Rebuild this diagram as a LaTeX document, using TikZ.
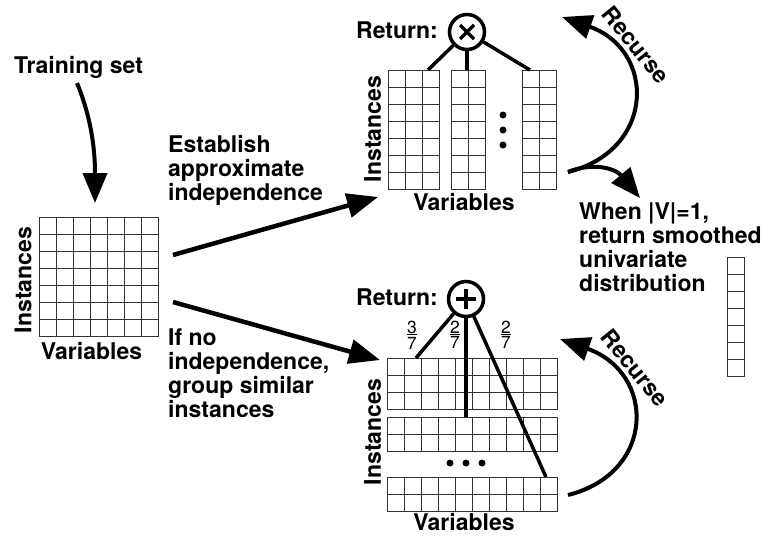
\documentclass[tikz,border=0pt]{standalone}
\usepackage{fontspec}
\setmainfont{TeX Gyre Heros}
\usetikzlibrary{arrows.meta}
\newcommand\cellgrid[5]{% name, x, y, cols, rows
  \node[inner sep=0pt, outer sep=0pt, anchor=north west,
        minimum width=#4*17pt, minimum height=#5*17pt] (#1) at (#2,#3) {};
  \foreach \i in {0,...,#4}
    \draw[gridline] ({#2+\i*17},#3) -- ({#2+\i*17},{#3+#5*17});
  \foreach \j in {0,...,#5}
    \draw[gridline] (#2,{#3+\j*17}) -- ({#2+#4*17},{#3+\j*17});
}
\newcommand\smallfrac[2]{\shortstack{#1\\[-3pt]\rule{10pt}{1.2pt}\\[-1pt]#2}}
\begin{document}
\begin{tikzpicture}[x=1pt,y=-1pt,
  lbl/.style={font=\bfseries\fontsize{23}{24}\selectfont, inner sep=0pt, align=left},
  fracl/.style={font=\fontsize{17.5}{17.5}\selectfont, inner sep=0pt},
  gridline/.style={line width=1pt, draw=black!80, line cap=rect},
  conn/.style={line width=3.5pt},
  bigarrow/.style={line width=4.5pt, -{Triangle[length=31pt,width=24pt]}},
  curvearrow/.style={line width=4pt, -{Triangle[length=30pt,width=24pt]}},
  opcircle/.style={circle, draw, line width=3.5pt, minimum size=35pt, inner sep=0pt},
  dot/.style={circle, fill, minimum size=7pt, inner sep=0pt}
]
\useasboundingbox (0,0) rectangle (771,539);

% grids
\cellgrid{L}{39}{217}{7}{7}
\cellgrid{T1}{388}{70}{3}{7}
\cellgrid{T2}{451}{70}{2}{7}
\cellgrid{T3}{522}{70}{2}{7}
\cellgrid{B1}{387}{358}{10}{3}
\cellgrid{B2}{387}{417}{10}{2}
\cellgrid{B3}{387}{477}{10}{2}
\cellgrid{U}{727}{257}{1}{7}

% labels
\node[lbl, anchor=base west] (train) at (14,73) {Training set};
\node[lbl, rotate=90] (instL) at (23,280) {Instances};
\node[lbl] (varL) at (91.5,351) {Variables};
\node[lbl, anchor=north west] (estab) at (168,135.4) {Establish\\approximate\\independence};
\node[lbl, anchor=north west] (ifno) at (168,328.4) {If no\\independence,\\group similar\\instances};

\node[lbl, anchor=base east] (retT) at (438,38) {Return:};
\node[lbl, rotate=90] (instT) at (372.5,129) {Instances};
\node[lbl] (varT) at (464,202) {Variables};

\node[lbl, anchor=base east] (retB) at (438,305) {Return:};
\node[lbl, rotate=90] (instB) at (372.5,432) {Instances};
\node[lbl] (varB) at (464,522) {Variables};

\node[lbl, rotate=-51] (recT) at (636,45) {Recurse};
\node[lbl, rotate=-51] (recB) at (635,368) {Recurse};
\node[lbl, anchor=north west] (when) at (579,202.4) {When |V|=1,\\return smoothed\\univariate\\distribution};

% operator circles
\node[opcircle, path picture={
  \draw[line width=3.5pt] (path picture bounding box.center) ++(-7pt,-7pt) -- ++(14pt,14pt);
  \draw[line width=3.5pt] (path picture bounding box.center) ++(-7pt,7pt) -- ++(14pt,-14pt);}]
  (times) at (467,32) {};
\node[opcircle, path picture={
  \draw[line width=3.5pt] (path picture bounding box.center) ++(-10pt,0pt) -- ++(20pt,0pt);
  \draw[line width=3.5pt] (path picture bounding box.center) ++(0pt,-10pt) -- ++(0pt,20pt);}]
  (plus) at (466,299) {};

% connector end points
\coordinate (t1) at (428,70);
\coordinate (t2) at (467,70);
\coordinate (t3) at (530,70);
\coordinate (b1) at (416,358);
\coordinate (b2) at (466,417);
\coordinate (b3) at (546,477);

\draw[conn] (times) -- (t1);
\draw[conn] (times) -- (t2);
\draw[conn] (times) -- (t3);
\draw[conn] (plus) -- (b1);
\draw[conn] (plus) -- (b2);
\draw[conn] (plus) -- (b3);

% fractions
\node[fracl] (f1) at (412,335) {\smallfrac{3}{7}};
\node[fracl] (f2) at (455,335) {\smallfrac{2}{7}};
\node[fracl] (f3) at (506,335) {\smallfrac{2}{7}};

% dots
\node[dot] (dv1) at (503,115) {};
\node[dot] (dv2) at (503,130) {};
\node[dot] (dv3) at (503,145) {};
\node[dot] (dh1) at (450,463) {};
\node[dot] (dh2) at (466,463) {};
\node[dot] (dh3) at (482,463) {};

% main arrows
\coordinate (trs) at (77,83);
\coordinate (tre) at (95,203);
\draw[curvearrow] (trs) .. controls (90,115) and (95,145) .. (tre);

\coordinate (a1s) at (173,255);
\coordinate (a1e) at (378,197);
\draw[bigarrow] (a1s) -- (a1e);
\coordinate (a2s) at (173,302);
\coordinate (a2e) at (380,360);
\draw[bigarrow] (a2s) -- (a2e);

% recurse arrows
\coordinate (rT0) at (568,172);
\coordinate (rT1) at (562,17);
\coordinate (rT2) at (640,198);
\draw[curvearrow] (rT0) .. controls (656,150) and (656,50) .. (rT1);
\draw[curvearrow] (rT0) .. controls (592,162) and (615,168) .. (rT2);

\coordinate (rB0) at (568,495);
\coordinate (rB1) at (560,339);
\draw[curvearrow] (rB0) .. controls (656,473) and (656,373) .. (rB1);
\end{tikzpicture}
\end{document}
